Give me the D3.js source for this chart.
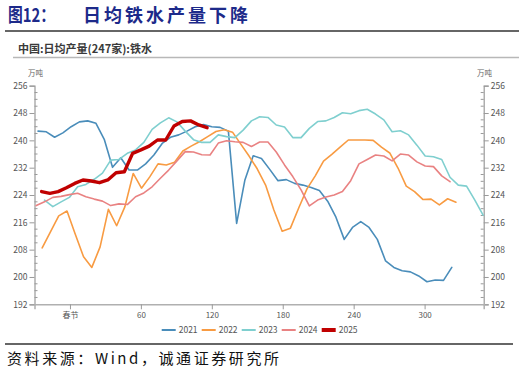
<!DOCTYPE html>
<html><head><meta charset="utf-8">
<script src="https://cdn.jsdelivr.net/npm/d3@7"></script>
<style>
html,body{margin:0;padding:0;background:#fff;}
svg{display:block;}
text{font-family:"Noto Sans CJK SC","Noto Sans",Arial,sans-serif;}
</style></head>
<body>
<svg id="c" width="519" height="374"></svg>
<script>
// ---- data (weekly points, x = days from Spring Festival) ----
const years = ["2021","2022","2023","2024","2025"];
const startDays = [-27, -23.5, -21.5, -28.5, -24];
const stepDays = 7;
const v2021 = [242.7,242.5,240.9,242.2,244.0,245.4,245.7,245.0,240.3,232.1,234.9,231.3,231.3,233.1,235.7,239.1,240.9,241.6,242.7,244.0,244.6,244.0,243.8,242.7,215.7,228.4,235.5,234.7,231.5,228.2,228.5,227.4,226.9,226.2,225.3,222.2,217.5,211.0,214.5,216.2,214.5,211.0,204.7,202.8,201.8,201.5,200.3,198.6,199.1,199.0,202.8];
const v2022 = [208.5,213.2,217.9,219.3,212.5,205.9,202.8,208.8,219.8,215.0,220.6,230.3,226.0,229.3,233.1,232.8,233.6,236.9,238.3,239.6,241.1,242.6,243.1,242.4,238.9,235.4,231.6,226.9,219.6,213.4,214.3,220.2,225.8,229.6,233.9,235.9,238.0,240.1,240.1,240.1,240.0,238.0,236.3,231.9,226.6,225.0,222.7,222.8,221.1,222.9,221.9];
const v2023 = [222.5,220.6,222.0,223.3,226.4,227.1,228.6,230.4,234.2,234.4,236.2,237.2,239.4,243.2,245.1,246.6,245.4,242.7,240.2,239.4,239.4,241.6,241.1,240.8,243.0,245.7,246.9,246.7,244.5,243.9,240.8,240.8,243.5,245.5,245.7,246.7,248.1,247.8,248.7,249.1,247.7,246.0,242.5,242.8,241.6,238.6,235.4,235.2,234.4,229.2,226.9,226.6,222.5,218.1];
const v2024 = [220.9,222.0,223.3,223.6,224.1,224.5,223.5,222.8,222.2,220.9,221.4,221.2,223.5,224.6,226.4,228.9,231.3,234.0,236.7,236.6,235.8,235.7,239.2,239.9,239.6,239.4,238.2,239.5,239.5,236.6,232.8,229.4,225.5,220.8,222.5,223.4,224.0,225.0,228.2,233.1,234.4,235.7,235.4,234.0,236.0,235.7,233.7,232.5,232.3,229.6,227.9];
const v2025 = [225.0,224.5,225.0,226.1,227.4,228.4,228.1,227.6,228.4,230.5,230.8,236.2,237.2,238.3,240.1,240.1,244.2,245.5,245.7,244.5,243.7];
const seriesValues = [v2021, v2022, v2023, v2024, v2025];
const colors = ["#4a8dba","#f89b42","#7fcfcf","#e98282","#c00000"];
const widths = [1.6,1.6,1.6,1.6,3.4];
const yTicks = [192,200,208,216,224,232,240,248,256];
const xTicks = [0,60,120,180,240,300];
const xTickLabels = ["春节","60","120","180","240","300"];
const titleNum = "图12：";
const titleText = "日均铁水产量下降";
const subtitle = "中国:日均产量(247家):铁水";
const unit = "万吨";
const source = "资料来源：Wind，诚通证券研究所";

// ---- layout ----
const svg = d3.select("#c");
const L = 34.5, R = 483.7, T = 85.7, B = 304.3;
const x = d3.scaleLinear().domain([-30, 350]).range([L, R]);
const y = d3.scaleLinear().domain([192, 256]).range([B, T]);
const serifMix = "'Liberation Serif','Noto Sans CJK SC',serif";

// title
svg.append("text").attr("x", 8).attr("y", 22).attr("font-size", 19).attr("font-weight", "bold")
  .attr("font-family", serifMix)
  .attr("fill", "#1d2a8a").attr("textLength", 47).attr("lengthAdjust","spacingAndGlyphs").text(titleNum);
svg.append("text").attr("x", 83).attr("y", 22).attr("font-size", 18).attr("font-weight", "bold")
  .attr("fill", "#1d2a8a").attr("textLength", 165).text(titleText);
svg.append("line").attr("x1", 5).attr("x2", 519).attr("y1", 31).attr("y2", 31)
  .attr("stroke", "#333").attr("stroke-width", 1.5);

// subtitle
svg.append("text").attr("x", 18).attr("y", 53).attr("font-size", 11).attr("font-weight", "bold")
  .attr("fill", "#3a3a3a").text(subtitle);
svg.append("line").attr("x1", 13).attr("x2", 519).attr("y1", 57.5).attr("y2", 57.5)
  .attr("stroke", "#b8b8b8").attr("stroke-width", 1.5);

// units
svg.append("text").attr("x", 28).attr("y", 76).attr("font-size", 7.5).attr("fill", "#666").text(unit);
svg.append("text").attr("x", 477).attr("y", 76).attr("font-size", 7.5).attr("fill", "#666").text(unit);

const minor = d3.range(192, 257, 2).filter(v => v % 8 !== 0);
const axisColor = "#9a9a9a";

// left axis
const gl = svg.append("g").attr("transform", `translate(${L},0)`)
  .call(d3.axisLeft(y).tickValues(yTicks).tickSize(5).tickPadding(2).tickFormat(d3.format("d")));
gl.select(".domain").attr("stroke", axisColor).attr("stroke-width", 1.2);
gl.selectAll(".tick line").attr("stroke", axisColor);
gl.selectAll(".tick text").attr("font-size", 8.5).attr("fill", "#555").attr("font-family", "'Noto Sans CJK SC',sans-serif");
svg.append("g").selectAll("line").data(minor).join("line")
  .attr("x1", L).attr("x2", L + 3).attr("y1", d => y(d)).attr("y2", d => y(d))
  .attr("stroke", axisColor);

// right axis
const gr = svg.append("g").attr("transform", `translate(${R},0)`)
  .call(d3.axisRight(y).tickValues(yTicks).tickSize(5).tickPadding(2).tickFormat(d3.format("d")));
gr.select(".domain").attr("stroke", axisColor).attr("stroke-width", 1.2);
gr.selectAll(".tick line").attr("stroke", axisColor);
gr.selectAll(".tick text").attr("font-size", 8.5).attr("fill", "#555").attr("font-family", "'Noto Sans CJK SC',sans-serif");
svg.append("g").selectAll("line").data(minor).join("line")
  .attr("x1", R - 3).attr("x2", R).attr("y1", d => y(d)).attr("y2", d => y(d))
  .attr("stroke", axisColor);

// bottom axis
const gb = svg.append("g").attr("transform", `translate(0,${B})`)
  .call(d3.axisBottom(x).tickValues(xTicks).tickSize(5).tickPadding(3)
    .tickFormat((d, i) => xTickLabels[i]));
gb.select(".domain").attr("stroke", "#b0b0b0").attr("stroke-width", 1.5);
gb.selectAll(".tick line").attr("stroke", axisColor);
gb.selectAll(".tick text").attr("font-size", 8).attr("fill", "#555").attr("font-family", "'Noto Sans CJK SC',sans-serif");

// lines
const line = d3.line().x(d => x(d.day)).y(d => y(d.v));
seriesValues.forEach((vals, k) => {
  const pts = vals.map((v, i) => ({ day: startDays[k] + i * stepDays, v }));
  svg.append("path").datum(pts).attr("d", line).attr("fill", "none")
    .attr("stroke", colors[k]).attr("stroke-width", widths[k])
    .attr("stroke-linejoin", "round").attr("stroke-linecap", "round");
});

// legend
const lg = svg.append("g").selectAll("g").data(years).join("g")
  .attr("transform", (d, i) => `translate(${161.7 + i * 40},330)`);
lg.append("line").attr("x1", 0).attr("x2", 14).attr("y1", 0).attr("y2", 0)
  .attr("stroke", (d, i) => colors[i]).attr("stroke-width", (d, i) => i === 4 ? 4 : 2);
lg.append("text").attr("x", 17).attr("y", 3).attr("font-size", 8.5).attr("fill", "#555").text(d => d);

// footer
svg.append("line").attr("x1", 5).attr("x2", 513).attr("y1", 344).attr("y2", 344)
  .attr("stroke", "#333").attr("stroke-width", 1.5);
svg.append("text").attr("x", 7).attr("y", 364).attr("font-size", 15).attr("fill", "#111")
  .attr("font-family", serifMix)
  .attr("textLength", 272).text(source);
</script>
</body></html>
